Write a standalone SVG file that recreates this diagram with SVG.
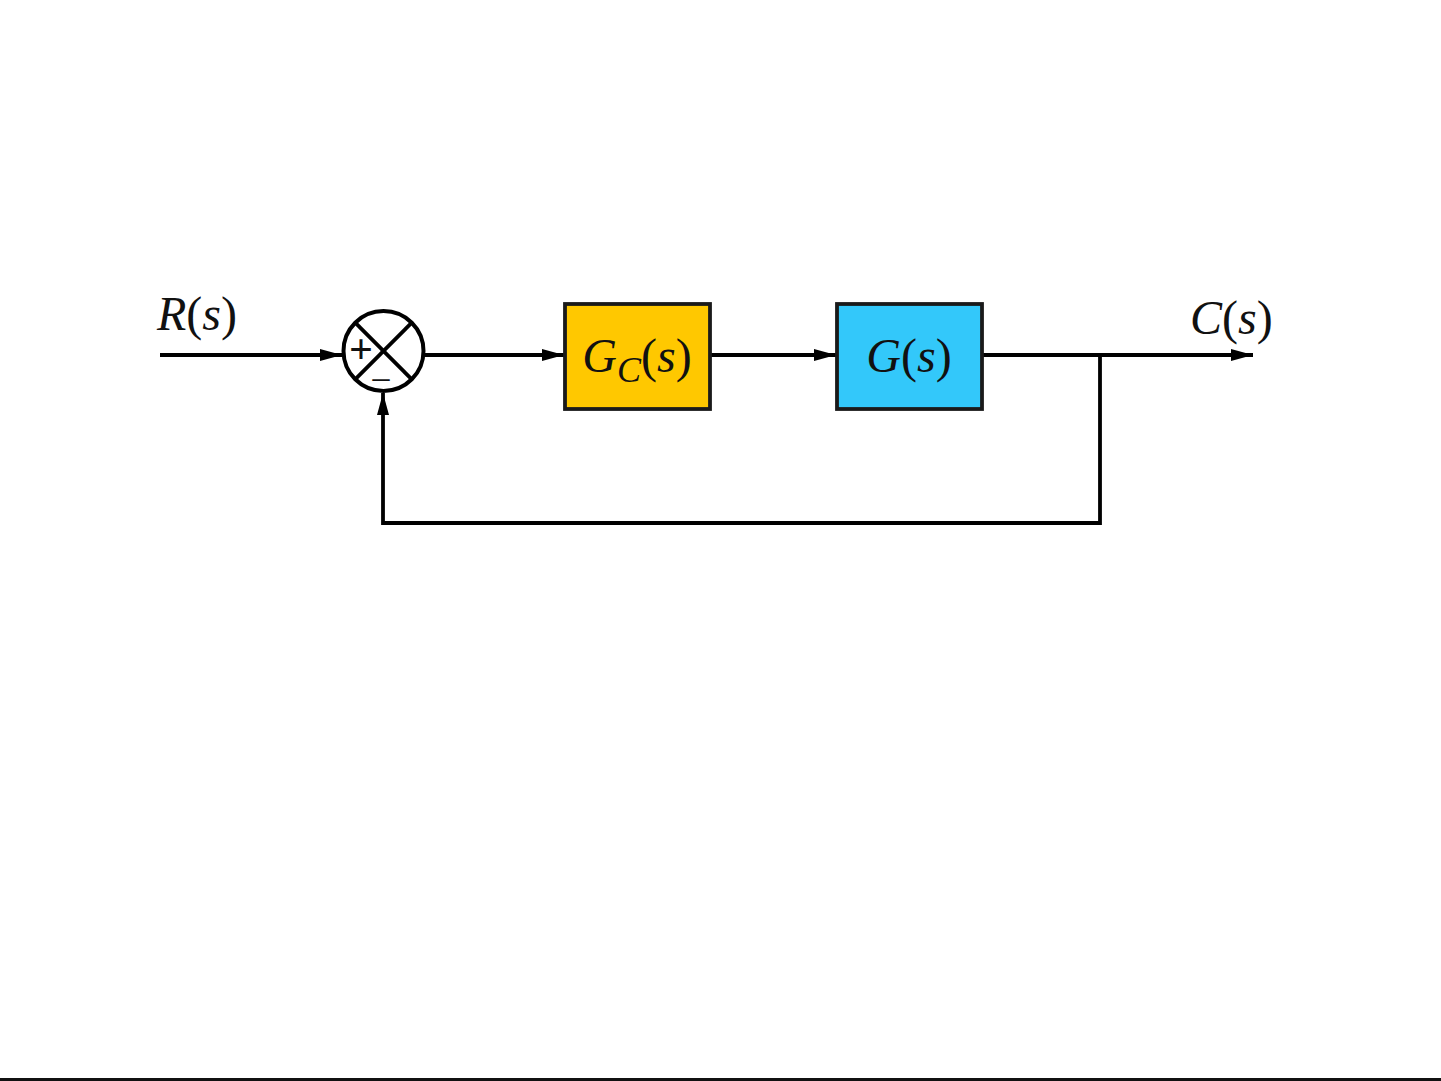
<svg xmlns="http://www.w3.org/2000/svg" width="1441" height="1081" viewBox="0 0 1441 1081">
<style>
.ln{stroke:#000;stroke-width:3.8;fill:none}
.box{stroke:#1a1a1a;stroke-width:3.8}
.lbl{font-family:"Liberation Serif","Times New Roman",serif;font-style:italic;font-size:48px;fill:#111}
.par{font-style:normal}
.sgn{font-family:"Liberation Serif",serif;fill:#111}
</style>
<defs>
<marker id="arr" markerWidth="24" markerHeight="12" refX="22" refY="6" orient="auto" markerUnits="userSpaceOnUse">
<path d="M0,0 L22,6 L0,12 Z" fill="#000"/>
</marker>
</defs>
<rect width="1441" height="1081" fill="#fff"/>
<g id="connectors">
<line class="ln" x1="160" y1="355" x2="342" y2="355" marker-end="url(#arr)"/>
<line class="ln" x1="425" y1="355" x2="564" y2="355" marker-end="url(#arr)"/>
<line class="ln" x1="710" y1="355" x2="836" y2="355" marker-end="url(#arr)"/>
<line class="ln" x1="983" y1="355" x2="1253" y2="355" marker-end="url(#arr)"/>
<polyline class="ln" points="1100,355 1100,523 383,523 383,393" marker-end="url(#arr)"/>
</g>
<g id="sum">
<circle cx="383.5" cy="351" r="40" fill="#fff" stroke="#000" stroke-width="4"/>
<line class="ln" x1="355.2" y1="322.7" x2="411.8" y2="379.3"/>
<line class="ln" x1="411.8" y1="322.7" x2="355.2" y2="379.3"/>
<text class="sgn" x="361" y="363" font-size="42" font-weight="bold" text-anchor="middle">+</text>
<text class="sgn" x="381" y="388" font-size="34" text-anchor="middle">–</text>
</g>
<g id="gc">
<rect class="box" x="565" y="304" width="145" height="105" fill="#ffc800"/>
<text class="lbl" x="637" y="372" text-anchor="middle">G<tspan font-size="36" dy="10">C</tspan><tspan class="par" dy="-10">(</tspan>s<tspan class="par">)</tspan></text>
</g>
<g id="g">
<rect class="box" x="837" y="304" width="145" height="105" fill="#33c8fa"/>
<text class="lbl" x="909" y="372" text-anchor="middle">G<tspan class="par">(</tspan>s<tspan class="par">)</tspan></text>
</g>
<g id="labels">
<text class="lbl" x="157" y="330">R<tspan class="par">(</tspan>s<tspan class="par">)</tspan></text>
<text class="lbl" x="1190" y="334">C<tspan class="par">(</tspan>s<tspan class="par">)</tspan></text>
</g>
<rect x="0" y="1078" width="1441" height="3" fill="#111"/>
</svg>
